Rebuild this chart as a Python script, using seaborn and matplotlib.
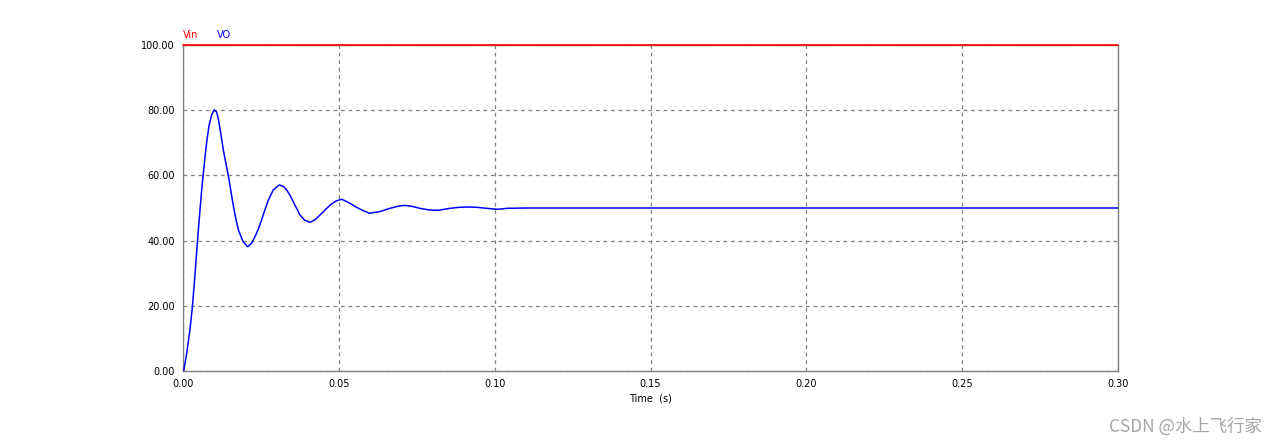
import matplotlib
matplotlib.use("Agg")
import matplotlib.pyplot as plt
import seaborn as sns
import pandas as pd

# ---- data ----
vo_time = [0.0, 0.0003, 0.0012, 0.0022, 0.0030, 0.0038, 0.0045, 0.0052, 0.0059, 0.0065,
           0.0071, 0.0077, 0.0084, 0.0092, 0.0100, 0.0108, 0.0114, 0.0121, 0.0129, 0.0138,
           0.0146, 0.0154, 0.0162, 0.0170, 0.0178, 0.0192, 0.0207, 0.0220, 0.0231, 0.0242,
           0.0252, 0.0263, 0.0274, 0.0290, 0.0309, 0.0322, 0.0333, 0.0344, 0.0354, 0.0365,
           0.0375, 0.0390, 0.0407, 0.0424, 0.0440, 0.0456, 0.0472, 0.0490, 0.0509, 0.0533,
           0.0557, 0.0578, 0.0598, 0.0632, 0.0664, 0.0688, 0.0710, 0.0735, 0.0760, 0.0790,
           0.0820, 0.0857, 0.0885, 0.0915, 0.0945, 0.0974, 0.1010, 0.1040, 0.1100, 0.1500,
           0.2000, 0.2500, 0.3000]
vo_value = [0.0, 0.3, 5.5, 12.5, 19.5, 29.0, 38.0, 46.5, 54.5, 60.5,
            66.0, 71.0, 75.5, 78.6, 80.1, 79.4, 77.0, 73.0, 68.0, 63.5,
            59.6, 55.0, 50.4, 46.5, 43.2, 39.8, 38.1, 39.2, 41.2, 43.6,
            46.3, 49.5, 52.5, 55.6, 57.1, 56.6, 55.5, 53.8, 51.9, 49.8,
            47.9, 46.3, 45.6, 46.4, 47.9, 49.4, 50.9, 52.1, 52.7, 51.6,
            50.2, 49.2, 48.4, 48.9, 49.9, 50.5, 50.8, 50.5, 49.9, 49.4,
            49.3, 49.9, 50.2, 50.3, 50.2, 49.9, 49.6, 49.9, 50.0, 50.0,
            50.0, 50.0, 50.0]
vin_time = [0.0, 0.30]
vin_value = [100.0, 100.0]

x_ticks = [0.00, 0.05, 0.10, 0.15, 0.20, 0.25, 0.30]
y_ticks = [0, 20, 40, 60, 80, 100]
x_tick_labels = ["0.00", "0.05", "0.10", "0.15", "0.20", "0.25", "0.30"]
y_tick_labels = ["0.00", "20.00", "40.00", "60.00", "80.00", "100.00"]

df_vo = pd.DataFrame({"t": vo_time, "v": vo_value})
df_vin = pd.DataFrame({"t": vin_time, "v": vin_value})

sns.set_theme(style="white")
plt.rcParams["font.family"] = ["DejaVu Sans"]

fig = plt.figure(figsize=(12.78, 4.45), dpi=100)
ax = fig.add_axes([183 / 1278, 1 - 371 / 445, (1118 - 183) / 1278, (371 - 45) / 445])

sns.lineplot(data=df_vo, x="t", y="v", ax=ax, color="#0000ff", linewidth=1.1,
             estimator=None, zorder=3)
sns.lineplot(data=df_vin, x="t", y="v", ax=ax, color="#ff0000", linewidth=1.2,
             estimator=None, zorder=4, clip_on=False)

ax.set_xlim(0, 0.30)
ax.set_ylim(0, 100)
ax.set_xticks(x_ticks)
ax.set_xticklabels(x_tick_labels)
ax.set_yticks(y_ticks)
ax.set_yticklabels(y_tick_labels)
ax.tick_params(axis="both", length=0, labelsize=7, colors="black", pad=6)
ax.grid(True, linestyle=(0, (3, 3)), color="#808080", linewidth=0.9)
for s in ax.spines.values():
    s.set_color("#808080")
    s.set_linewidth(1.0)
ax.set_xlabel("Time  (s)", fontsize=7, labelpad=3, color="black")
ax.set_ylabel("")

fig.text(183 / 1278, 1 - 35 / 445, "Vin", color="#ff0000", fontsize=7, va="center", ha="left")
fig.text(217 / 1278, 1 - 35 / 445, "VO", color="#0000ff", fontsize=7, va="center", ha="left")

fig.text(1262 / 1278, 1 - 427 / 445, "CSDN @水上飞行家", color="#a6a6a6", fontsize=12.5,
         va="center", ha="right", family=["Noto Sans CJK SC", "DejaVu Sans"])

fig.savefig("out.png", dpi=100, facecolor="white")
